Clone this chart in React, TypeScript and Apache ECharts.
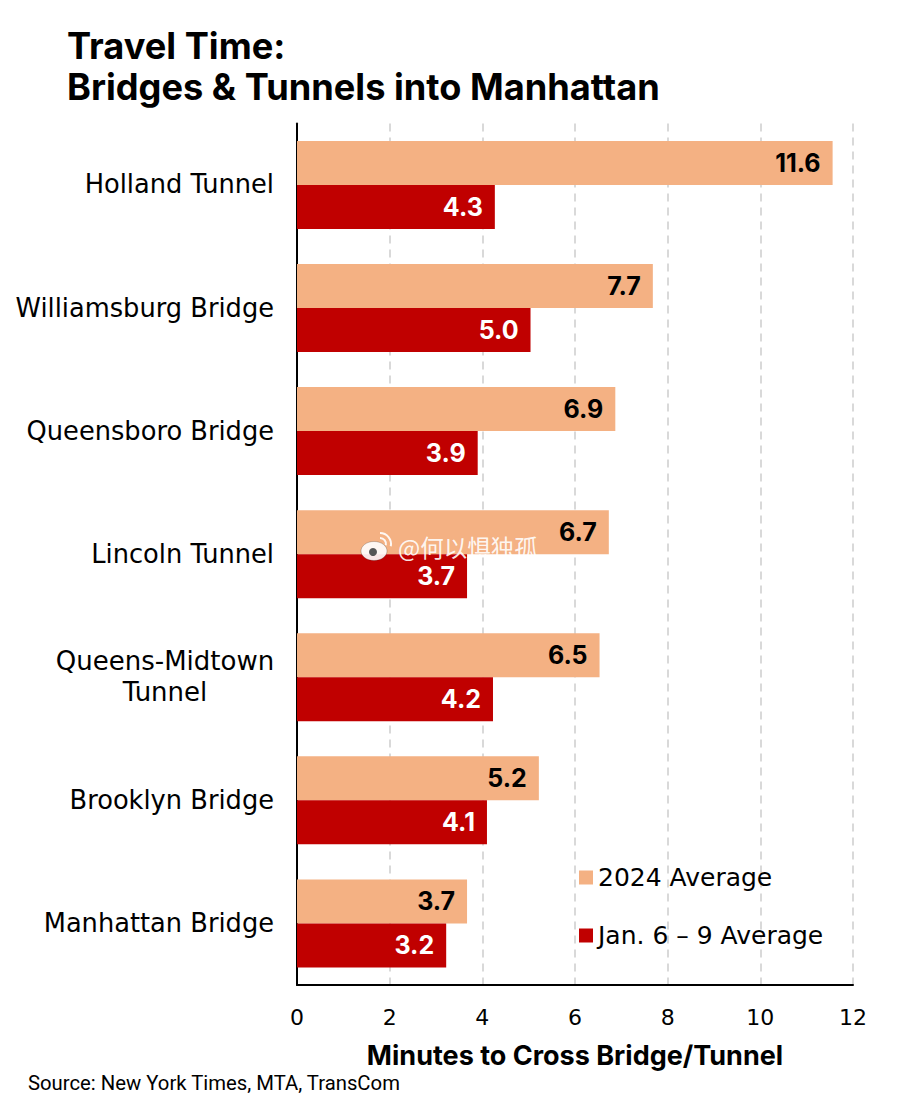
import React, { useEffect, useRef } from "react";
import * as echarts from "echarts";

const categories = ["Holland Tunnel", "Williamsburg Bridge", "Queensboro Bridge", "Lincoln Tunnel", "Queens-Midtown\nTunnel", "Brooklyn Bridge", "Manhattan Bridge"];
const avg2024 = [11.56, 7.68, 6.87, 6.73, 6.53, 5.22, 3.67];
const janAvg = [4.27, 5.04, 3.9, 3.67, 4.23, 4.1, 3.22];
const seriesNames = ["2024 Average", "Jan. 6 – 9 Average"];
const FONT = "DejaVu Sans";
const BOLD = "Inter";

export default function App() {
  const ref = useRef<HTMLDivElement>(null);
  useEffect(() => {
    const chart = echarts.init(ref.current!, null, { renderer: "svg" });
    const label = (color: string) => ({
      show: true, position: "insideRight", distance: 12, color, fontFamily: BOLD, fontWeight: 700, fontSize: 25,
      formatter: (p: any) => p.value.toFixed(1),
    });
    const mark = "rgba(255,255,255,0.9)";
    chart.setOption({
      animation: false,
      backgroundColor: "#fff",
      title: {
        text: "Travel Time:\nBridges & Tunnels into Manhattan",
        left: 67, top: 25, padding: 0,
        textStyle: { fontFamily: BOLD, fontWeight: 700, fontSize: 36.2, lineHeight: 41, color: "#000" },
      },
      grid: { left: 297, right: 47, top: 123.4, bottom: 110 },
      legend: {
        orient: "vertical", left: 579, top: 865, padding: 0, itemWidth: 14, itemHeight: 14, itemGap: 33,
        data: seriesNames.map((name) => ({ name, icon: "rect" })),
        textStyle: { fontFamily: FONT, fontSize: 25, color: "#000" },
      },
      xAxis: {
        type: "value", min: 0, max: 12, interval: 2,
        axisLine: { show: true, lineStyle: { color: "#000", width: 2 } },
        axisTick: { show: false },
        axisLabel: { margin: 21, fontFamily: FONT, fontSize: 22, color: "#000" },
        splitLine: { show: true, lineStyle: { color: "#d9d9d9", width: 2, type: [8, 6] } },
        name: "Minutes to Cross Bridge/Tunnel", nameLocation: "middle", nameGap: 57,
        nameTextStyle: { fontFamily: BOLD, fontWeight: 700, fontSize: 27, color: "#000" },
      },
      yAxis: {
        type: "category", inverse: true, data: categories,
        axisLine: { show: true, lineStyle: { color: "#000", width: 2 } },
        axisTick: { show: false },
        axisLabel: {
          margin: 23, fontFamily: FONT, fontSize: 25.7, lineHeight: 31, color: "#000", padding: [0, 0, 1, 0],
          formatter: (v: string) => v.includes("\n") ? v.split("\n").map((l) => `{c|${l}}`).join("\n") : v,
          rich: { c: { width: 218, align: "center", fontFamily: FONT, fontSize: 26, lineHeight: 31, color: "#000" } },
        },
        splitLine: { show: false },
      },
      series: [
        { name: seriesNames[0], type: "bar", data: avg2024, barWidth: 44, barGap: 0, itemStyle: { color: "#f4b183" }, label: label("#000") },
        { name: seriesNames[1], type: "bar", data: janAvg, barWidth: 44, barGap: 0, itemStyle: { color: "#c00000" }, label: label("#fff") },
      ],
      graphic: [
        { type: "text", left: 28, top: 1073, style: { text: "Source: New York Times, MTA, TransCom", fontFamily: "Roboto", fontSize: 20.3, fill: "#000" } },
        { type: "text", left: 398, top: 535, z: 100, style: { text: "@何以惧独孤", fontFamily: "Noto Sans CJK SC", fontSize: 23.5, fill: mark, shadowColor: "rgba(0,0,0,0.35)", shadowBlur: 3 } },
        { type: "ellipse", z: 100, shape: { cx: 374, cy: 551, rx: 13, ry: 9.5 }, style: { fill: mark, stroke: "rgba(0,0,0,0.2)", lineWidth: 1 } },
        { type: "circle", z: 101, shape: { cx: 373, cy: 552, r: 4 }, style: { fill: "#555" } },
        { type: "arc", z: 100, shape: { cx: 380, cy: 544, r: 6, startAngle: -1.57, endAngle: 0.2 }, style: { stroke: mark, lineWidth: 2, fill: "none" } },
        { type: "arc", z: 100, shape: { cx: 380, cy: 544, r: 11, startAngle: -1.57, endAngle: 0.2 }, style: { stroke: mark, lineWidth: 2, fill: "none" } },
      ],
    });
    return () => chart.dispose();
  }, []);
  return <div ref={ref} style={{ position: "absolute", left: 0, top: 0, width: 900, height: 1095 }} />;
}
